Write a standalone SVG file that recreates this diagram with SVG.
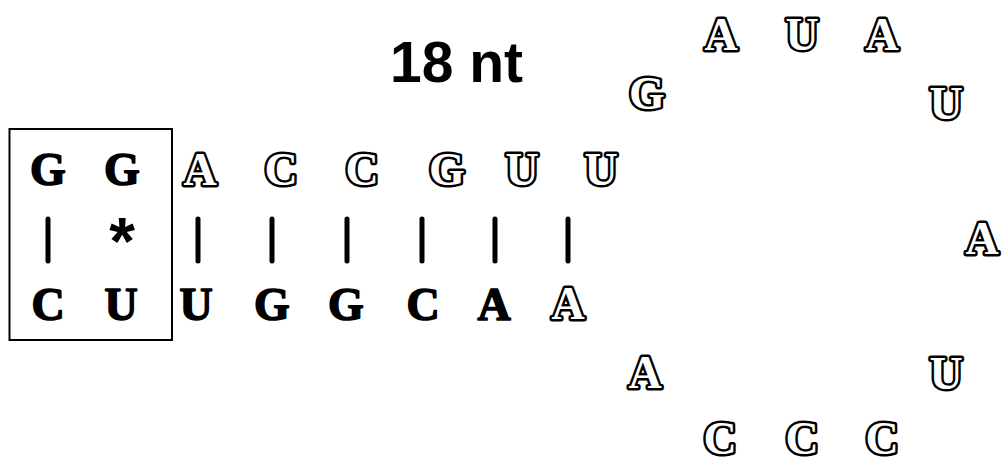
<svg xmlns="http://www.w3.org/2000/svg" width="1005" height="465" viewBox="0 0 1005 465">
<style>
.s{font-family:"Liberation Serif","DejaVu Serif",serif;font-weight:bold;font-size:46px;text-anchor:middle;fill:#000;stroke:#000;stroke-width:1.6;stroke-linejoin:round}
.o{font-family:"Liberation Serif","DejaVu Serif",serif;font-weight:bold;font-size:46px;text-anchor:middle;fill:#fff;stroke:#000;stroke-width:5;stroke-linejoin:round;paint-order:stroke}
.t{font-family:"Liberation Sans",Arial,sans-serif;font-weight:bold;font-size:57px;fill:#000}
.bar{stroke:#000;stroke-width:5;stroke-linecap:round}
</style>
<rect width="1005" height="465" fill="#fff"/>
<g id="title"><text class="t" x="390" y="82">18 nt</text></g>
<g id="box"><rect x="9.5" y="129" width="162.5" height="211" fill="none" stroke="#000" stroke-width="2"/></g>
<g id="stem-top">
<text class="s" x="48" y="185">G</text>
<text class="s" x="122" y="185">G</text>
<text class="o" x="200" y="185">A</text>
<text class="o" x="281" y="185">C</text>
<text class="o" x="362" y="185">C</text>
<text class="o" x="447" y="185">G</text>
<text class="o" x="522" y="185">U</text>
<text class="o" x="601" y="185">U</text>
</g>
<g id="connectors">
<line class="bar" x1="48" y1="219" x2="48" y2="261"/>
<line class="bar" x1="198" y1="219" x2="198" y2="261"/>
<line class="bar" x1="272" y1="219" x2="272" y2="261"/>
<line class="bar" x1="347" y1="219" x2="347" y2="261"/>
<line class="bar" x1="422" y1="219" x2="422" y2="261"/>
<line class="bar" x1="495" y1="219" x2="495" y2="261"/>
<line class="bar" x1="568" y1="219" x2="568" y2="261"/>
</g>
<g id="wobble"><text x="122" y="264" style="font-family:'Liberation Sans',Arial,sans-serif;font-weight:bold;font-size:66px;text-anchor:middle">*</text></g>
<g id="stem-bottom">
<text class="s" x="48" y="320">C</text>
<text class="s" x="121" y="320">U</text>
<text class="s" x="196" y="320">U</text>
<text class="s" x="272" y="320">G</text>
<text class="s" x="346" y="320">G</text>
<text class="s" x="423" y="320">C</text>
<text class="s" x="494" y="320">A</text>
<text class="o" x="568" y="319">A</text>
</g>
<g id="loop">
<text class="o" x="647" y="109">G</text>
<text class="o" x="721" y="50">A</text>
<text class="o" x="802" y="50">U</text>
<text class="o" x="882" y="50">A</text>
<text class="o" x="946" y="119">U</text>
<text class="o" x="982" y="254">A</text>
<text class="o" x="946" y="389">U</text>
<text class="o" x="645" y="388">A</text>
<text class="o" x="720" y="454">C</text>
<text class="o" x="802" y="454">C</text>
<text class="o" x="882" y="454">C</text>
</g>
</svg>
